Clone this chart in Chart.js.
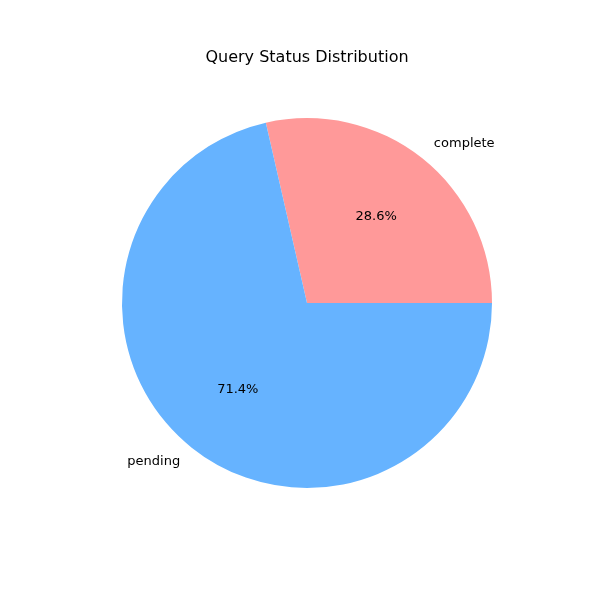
<!DOCTYPE html>
<html>
<head>
<meta charset="utf-8">
<script src="https://cdn.jsdelivr.net/npm/chart.js@4/dist/chart.umd.min.js"></script>
<style>
  html, body { margin: 0; padding: 0; background: #fff; }
  #wrap { width: 600px; height: 600px; }
</style>
</head>
<body>
<div id="wrap"><canvas id="pie"></canvas></div>
<script>
const labels = ['complete', 'pending'];
const counts = [2, 5];
const colors = ['#ff9999', '#66b3ff'];
const chartTitle = 'Query Status Distribution';

// draws the title plus outside labels and percentages, matplotlib style
const pieText = {
  id: 'pieText',
  afterDraw(chart) {
    const ctx = chart.ctx;
    const total = counts.reduce((a, b) => a + b, 0);
    ctx.save();
    ctx.fillStyle = '#000';
    ctx.font = '16px "DejaVu Sans"';
    ctx.textAlign = 'center';
    ctx.textBaseline = 'middle';
    ctx.fillText(chartTitle, 307, 58);

    ctx.font = '13px "DejaVu Sans"';
    chart.getDatasetMeta(0).data.forEach((arc, i) => {
      const mid = (arc.startAngle + arc.endAngle) / 2;
      const r = arc.outerRadius;
      const cos = Math.cos(mid), sin = Math.sin(mid);
      ctx.textAlign = 'center';
      ctx.fillText((counts[i] / total * 100).toFixed(1) + '%', arc.x + cos * r * 0.6, arc.y + sin * r * 0.6);
      ctx.textAlign = cos >= 0 ? 'left' : 'right';
      ctx.fillText(labels[i], arc.x + cos * r * 1.1, arc.y + sin * r * 1.1);
    });
    ctx.restore();
  }
};

new Chart(document.getElementById('pie'), {
  type: 'pie',
  data: { labels, datasets: [{ data: counts, backgroundColor: colors, borderWidth: 0 }] },
  options: {
    responsive: true,
    maintainAspectRatio: false,
    animation: false,
    rotation: -12.86,
    layout: { padding: { left: 122, right: 108, top: 118, bottom: 112 } },
    plugins: { legend: { display: false }, title: { display: false }, tooltip: { enabled: false } }
  },
  plugins: [pieText]
});
</script>
</body>
</html>
